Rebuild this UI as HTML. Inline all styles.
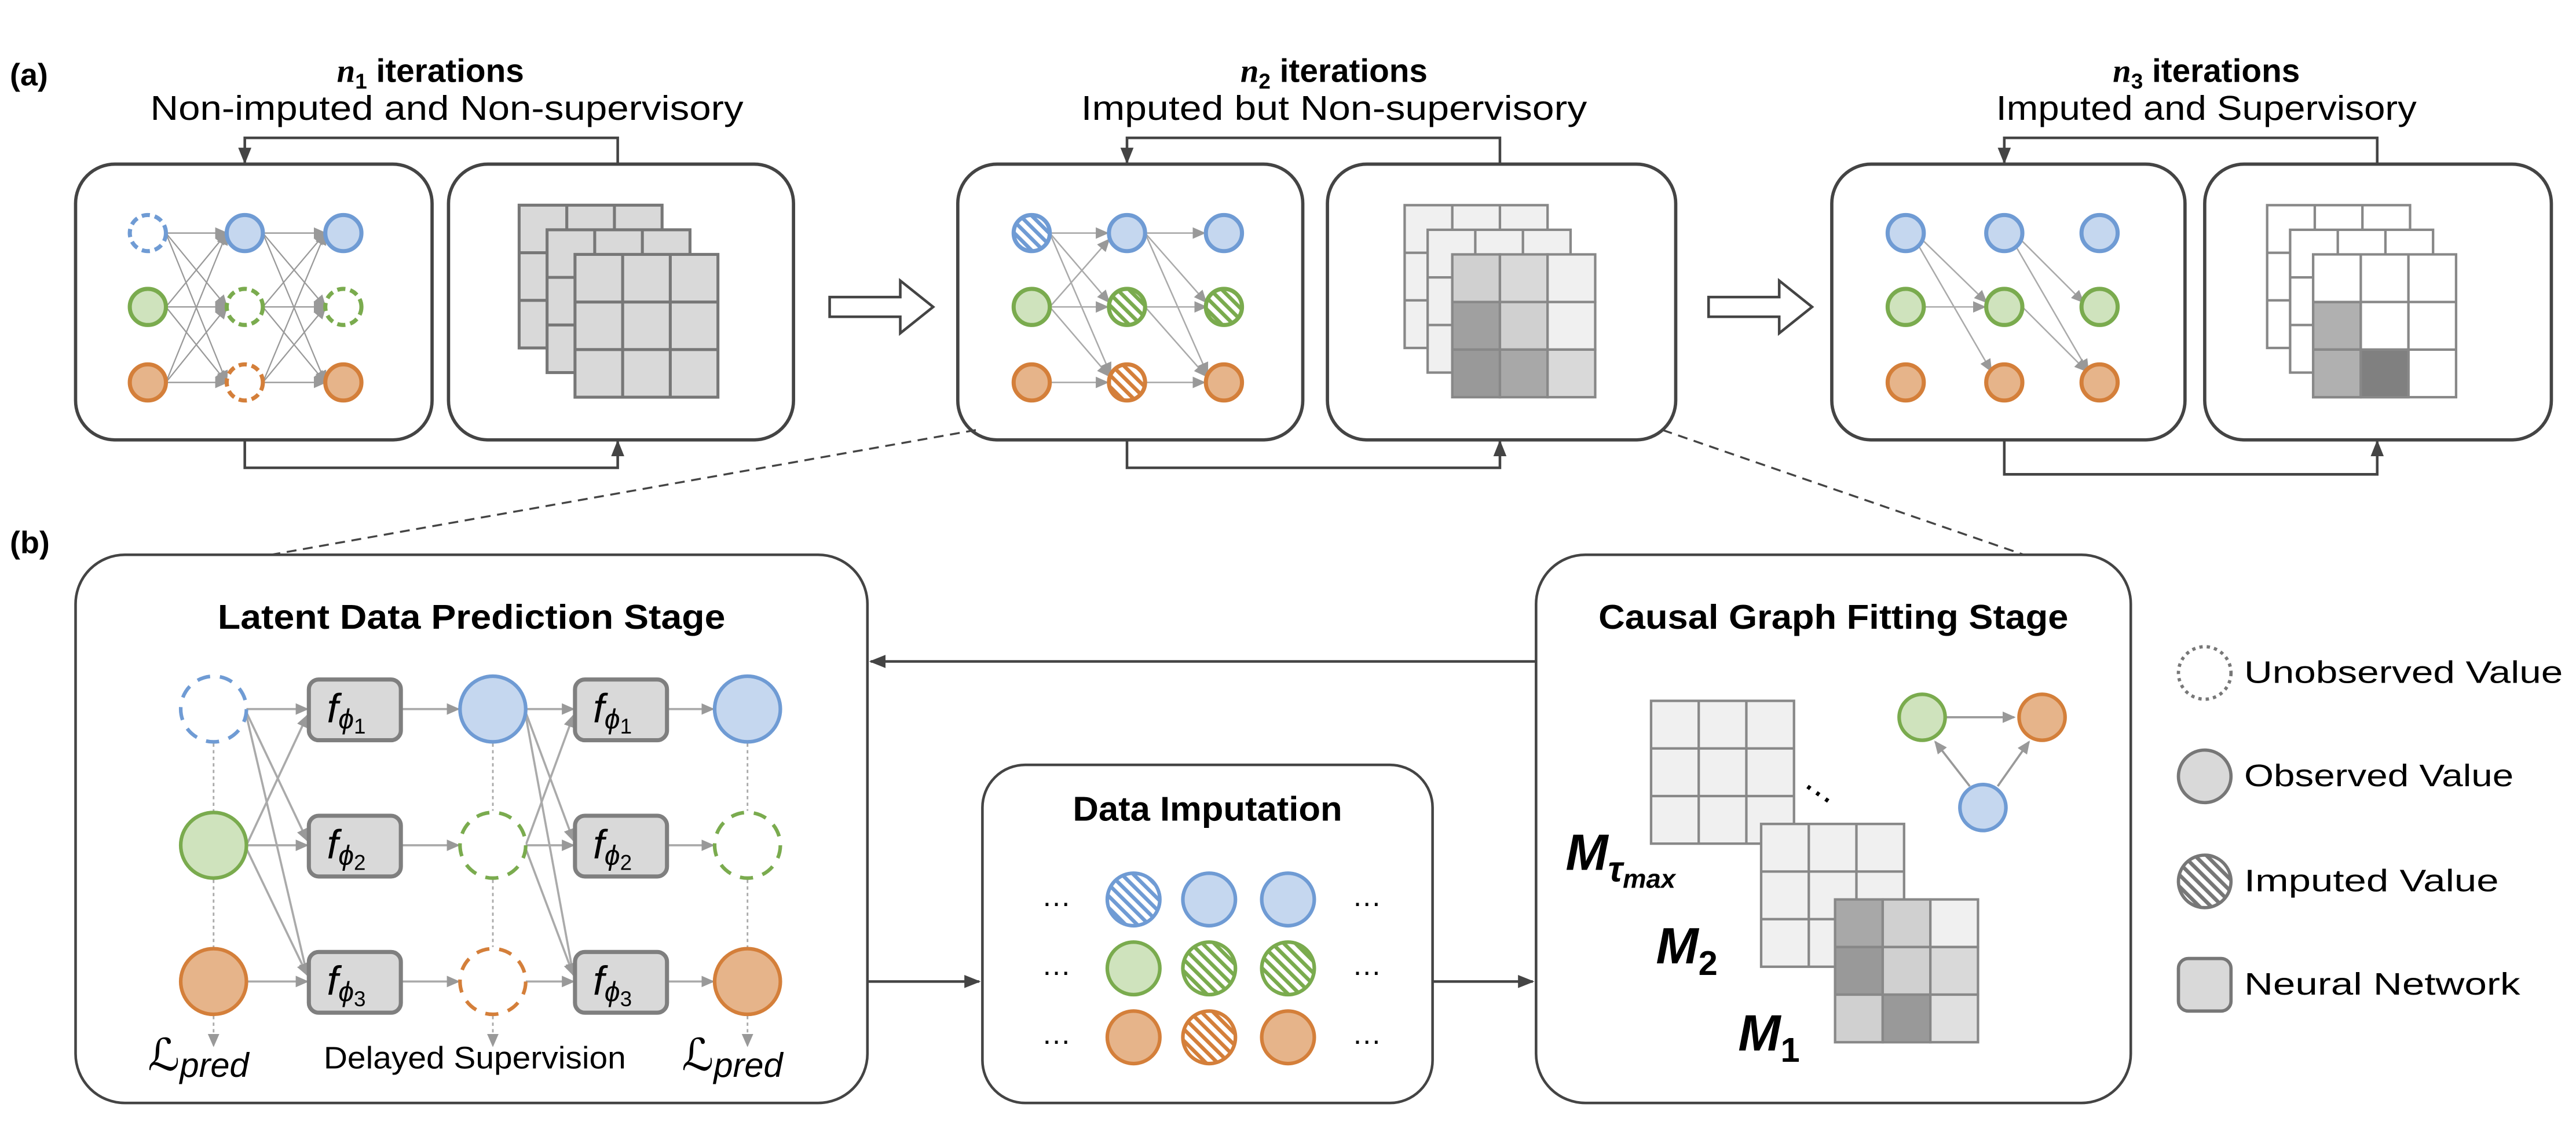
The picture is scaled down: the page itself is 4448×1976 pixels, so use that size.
<!DOCTYPE html>
<html><head><meta charset="utf-8"><style>
html,body{margin:0;padding:0;background:#fff}
svg{display:block}
text{font-family:"Liberation Sans","DejaVu Sans",sans-serif}
</style></head><body>
<svg width="4448" height="1976" viewBox="0 0 1568 697" preserveAspectRatio="none" xmlns="http://www.w3.org/2000/svg">
<defs>
<marker id="ag" markerWidth="8" markerHeight="8" refX="7" refY="4" orient="auto" markerUnits="userSpaceOnUse"><path d="M0,0.5 L8,4 L0,7.5z" fill="#999"/></marker>
<marker id="ad" markerWidth="10" markerHeight="10" refX="9" refY="5" orient="auto" markerUnits="userSpaceOnUse"><path d="M0,1 L10,5 L0,9z" fill="#444"/></marker>
<pattern id="hb" width="5" height="5" patternUnits="userSpaceOnUse" patternTransform="rotate(-45)"><rect width="5" height="5" fill="#fff"/><rect width="2.3" height="5" fill="#6f9bd4"/></pattern>
<pattern id="hg" width="5" height="5" patternUnits="userSpaceOnUse" patternTransform="rotate(-45)"><rect width="5" height="5" fill="#fff"/><rect width="2.3" height="5" fill="#7aab4e"/></pattern>
<pattern id="ho" width="5" height="5" patternUnits="userSpaceOnUse" patternTransform="rotate(-45)"><rect width="5" height="5" fill="#fff"/><rect width="2.3" height="5" fill="#d47f3a"/></pattern>
<pattern id="hk" width="5" height="5" patternUnits="userSpaceOnUse" patternTransform="rotate(-45)"><rect width="5" height="5" fill="#fff"/><rect width="2.3" height="5" fill="#777"/></pattern>
</defs>

<text x="6" y="52" font-size="19" font-weight="bold">(a)</text>
<text x="6" y="337" font-size="19" font-weight="bold">(b)</text>

<!-- titles -->
<g text-anchor="middle">
<text x="262" y="50" font-size="20" font-weight="bold"><tspan font-style="italic" font-family="Liberation Serif">n</tspan><tspan font-size="13" dy="4">1</tspan><tspan dy="-4"> iterations</tspan></text>
<text x="272" y="73" font-size="21" textLength="361" lengthAdjust="spacingAndGlyphs">Non-imputed and Non-supervisory</text>
<text x="812" y="50" font-size="20" font-weight="bold"><tspan font-style="italic" font-family="Liberation Serif">n</tspan><tspan font-size="13" dy="4">2</tspan><tspan dy="-4"> iterations</tspan></text>
<text x="812" y="73" font-size="21" textLength="308" lengthAdjust="spacingAndGlyphs">Imputed but Non-supervisory</text>
<text x="1343" y="50" font-size="20" font-weight="bold"><tspan font-style="italic" font-family="Liberation Serif">n</tspan><tspan font-size="13" dy="4">3</tspan><tspan dy="-4"> iterations</tspan></text>
<text x="1343" y="73" font-size="21" textLength="256" lengthAdjust="spacingAndGlyphs">Imputed and Supervisory</text>
</g>

<!-- panel boxes -->
<g fill="#fff" stroke="#444" stroke-width="2">
<rect x="46" y="100" width="217" height="168" rx="24"/>
<rect x="273" y="100" width="210" height="168" rx="24"/>
<rect x="583" y="100" width="210" height="168" rx="24"/>
<rect x="808" y="100" width="212" height="168" rx="24"/>
<rect x="1115" y="100" width="215" height="168" rx="24"/>
<rect x="1342" y="100" width="211" height="168" rx="24"/>
</g>
<g fill="none" stroke="#444" stroke-width="1.6">
<path d="M376,100 V84 H149 V99" marker-end="url(#ad)"/>
<path d="M149,268 V285 H376 V269" marker-end="url(#ad)"/>
<path d="M913,100 V84 H686 V99" marker-end="url(#ad)"/>
<path d="M686,268 V285 H913 V269" marker-end="url(#ad)"/>
<path d="M1447,100 V84 H1220 V99" marker-end="url(#ad)"/>
<path d="M1220,268 V289 H1447 V269" marker-end="url(#ad)"/>
</g>
<g fill="#fff" stroke="#444" stroke-width="1.6">
<path d="M505,181 H548 V171 L568,187 L548,203 V193 H505z"/>
<path d="M1040,181 H1083 V171 L1103,187 L1083,203 V193 H1040z"/>
</g>

<!-- panel 1 NN -->
<g stroke="#999" stroke-width="0.8" marker-end="url(#ag)">
<line x1="101" y1="142" x2="138" y2="142"/><line x1="101" y1="142" x2="138" y2="187"/><line x1="101" y1="142" x2="138" y2="233"/>
<line x1="101" y1="187" x2="138" y2="142"/><line x1="101" y1="187" x2="138" y2="187"/><line x1="101" y1="187" x2="138" y2="233"/>
<line x1="101" y1="233" x2="138" y2="142"/><line x1="101" y1="233" x2="138" y2="187"/><line x1="101" y1="233" x2="138" y2="233"/>
<line x1="160" y1="142" x2="198" y2="142"/><line x1="160" y1="142" x2="198" y2="187"/><line x1="160" y1="142" x2="198" y2="233"/>
<line x1="160" y1="187" x2="198" y2="142"/><line x1="160" y1="187" x2="198" y2="187"/><line x1="160" y1="187" x2="198" y2="233"/>
<line x1="160" y1="233" x2="198" y2="142"/><line x1="160" y1="233" x2="198" y2="187"/><line x1="160" y1="233" x2="198" y2="233"/>
</g>
<g stroke-width="2.5">
<circle cx="90" cy="142" r="11" fill="#fff" stroke="#6f9bd4" stroke-dasharray="5,3"/>
<circle cx="90" cy="187" r="11" fill="#cfe3bd" stroke="#7aab4e"/>
<circle cx="90" cy="233" r="11" fill="#e6b48a" stroke="#d47f3a"/>
<circle cx="149" cy="142" r="11" fill="#c5d7ef" stroke="#6f9bd4"/>
<circle cx="149" cy="187" r="11" fill="#fff" stroke="#7aab4e" stroke-dasharray="5,3"/>
<circle cx="149" cy="233" r="11" fill="#fff" stroke="#d47f3a" stroke-dasharray="5,3"/>
<circle cx="209" cy="142" r="11" fill="#c5d7ef" stroke="#6f9bd4"/>
<circle cx="209" cy="187" r="11" fill="#fff" stroke="#7aab4e" stroke-dasharray="5,3"/>
<circle cx="209" cy="233" r="11" fill="#e6b48a" stroke="#d47f3a"/>
</g>
<g stroke="#777" stroke-width="1.8" fill="#d9d9d9">
<g transform="translate(316,125)"><rect width="87" height="87"/><path d="M29,0V87M58,0V87M0,29H87M0,58H87" fill="none"/></g>
<g transform="translate(333,140)"><rect width="87" height="87"/><path d="M29,0V87M58,0V87M0,29H87M0,58H87" fill="none"/></g>
<g transform="translate(350,155)"><rect width="87" height="87"/><path d="M29,0V87M58,0V87M0,29H87M0,58H87" fill="none"/></g>
</g>

<!-- panel 2 NN -->
<g stroke="#aaa" stroke-width="0.9" marker-end="url(#ag)">
<line x1="639" y1="142" x2="674" y2="142"/><line x1="639" y1="142" x2="675" y2="184"/>
<line x1="639" y1="187" x2="675" y2="146"/><line x1="639" y1="187" x2="674" y2="187"/><line x1="639" y1="187" x2="675" y2="229"/>
<line x1="639" y1="233" x2="674" y2="233"/><line x1="639" y1="142" x2="676" y2="228"/>
<line x1="697" y1="142" x2="733" y2="142"/><line x1="697" y1="142" x2="734" y2="184"/><line x1="697" y1="142" x2="735" y2="228"/>
<line x1="697" y1="187" x2="734" y2="187"/><line x1="697" y1="187" x2="734" y2="229"/>
<line x1="697" y1="233" x2="733" y2="233"/>
</g>
<g stroke-width="2.5">
<circle cx="628" cy="142" r="11" fill="url(#hb)" stroke="#6f9bd4"/>
<circle cx="628" cy="187" r="11" fill="#cfe3bd" stroke="#7aab4e"/>
<circle cx="628" cy="233" r="11" fill="#e6b48a" stroke="#d47f3a"/>
<circle cx="686" cy="142" r="11" fill="#c5d7ef" stroke="#6f9bd4"/>
<circle cx="686" cy="187" r="11" fill="url(#hg)" stroke="#7aab4e"/>
<circle cx="686" cy="233" r="11" fill="url(#ho)" stroke="#d47f3a"/>
<circle cx="745" cy="142" r="11" fill="#c5d7ef" stroke="#6f9bd4"/>
<circle cx="745" cy="187" r="11" fill="url(#hg)" stroke="#7aab4e"/>
<circle cx="745" cy="233" r="11" fill="#e6b48a" stroke="#d47f3a"/>
</g>
<g stroke="#888" stroke-width="1.5">
<g transform="translate(855,125)" fill="#f0f0f0"><rect width="87" height="87"/><path d="M29,0V87M58,0V87M0,29H87M0,58H87" fill="none"/></g>
<g transform="translate(869,140)" fill="#f0f0f0"><rect width="87" height="87"/><path d="M29,0V87M58,0V87M0,29H87M0,58H87" fill="none"/></g>
<g transform="translate(884,155)">
<rect x="0" y="0" width="29" height="29" fill="#d0d0d0"/><rect x="29" y="0" width="29" height="29" fill="#d9d9d9"/><rect x="58" y="0" width="29" height="29" fill="#f0f0f0"/>
<rect x="0" y="29" width="29" height="29" fill="#a0a0a0"/><rect x="29" y="29" width="29" height="29" fill="#d0d0d0"/><rect x="58" y="29" width="29" height="29" fill="#f0f0f0"/>
<rect x="0" y="58" width="29" height="29" fill="#999"/><rect x="29" y="58" width="29" height="29" fill="#a8a8a8"/><rect x="58" y="58" width="29" height="29" fill="#d9d9d9"/>
</g>
</g>

<!-- panel 3 NN -->
<g stroke="#aaa" stroke-width="0.9" marker-end="url(#ag)">
<line x1="1170" y1="146" x2="1209" y2="184"/><line x1="1168" y1="150" x2="1212" y2="226"/>
<line x1="1171" y1="187" x2="1208" y2="187"/>
<line x1="1230" y1="146" x2="1268" y2="184"/><line x1="1227" y1="150" x2="1271" y2="226"/>
<line x1="1231" y1="187" x2="1270" y2="226"/>
</g>
<g stroke-width="2.5">
<circle cx="1160" cy="142" r="11" fill="#c5d7ef" stroke="#6f9bd4"/>
<circle cx="1160" cy="187" r="11" fill="#cfe3bd" stroke="#7aab4e"/>
<circle cx="1160" cy="233" r="11" fill="#e6b48a" stroke="#d47f3a"/>
<circle cx="1220" cy="142" r="11" fill="#c5d7ef" stroke="#6f9bd4"/>
<circle cx="1220" cy="187" r="11" fill="#cfe3bd" stroke="#7aab4e"/>
<circle cx="1220" cy="233" r="11" fill="#e6b48a" stroke="#d47f3a"/>
<circle cx="1278" cy="142" r="11" fill="#c5d7ef" stroke="#6f9bd4"/>
<circle cx="1278" cy="187" r="11" fill="#cfe3bd" stroke="#7aab4e"/>
<circle cx="1278" cy="233" r="11" fill="#e6b48a" stroke="#d47f3a"/>
</g>
<g stroke="#888" stroke-width="1.5">
<g transform="translate(1380,125)" fill="#fff"><rect width="87" height="87"/><path d="M29,0V87M58,0V87M0,29H87M0,58H87" fill="none"/></g>
<g transform="translate(1394,140)" fill="#fff"><rect width="87" height="87"/><path d="M29,0V87M58,0V87M0,29H87M0,58H87" fill="none"/></g>
<g transform="translate(1408,155)" fill="#fff"><rect width="87" height="87"/>
<rect x="0" y="29" width="29" height="29" fill="#b0b0b0"/><rect x="0" y="58" width="29" height="29" fill="#b0b0b0"/><rect x="29" y="58" width="29" height="29" fill="#808080"/>
<path d="M29,0V87M58,0V87M0,29H87M0,58H87" fill="none"/></g>
</g>

<g stroke="#444" stroke-width="1.2" stroke-dasharray="6,4">
<line x1="594" y1="262" x2="165" y2="338"/>
<line x1="1012" y1="262" x2="1232" y2="338"/>
</g>

<!-- (b) boxes -->
<g fill="#fff" stroke="#444" stroke-width="1.6">
<rect x="46" y="338" width="482" height="334" rx="30"/>
<rect x="598" y="466" width="274" height="206" rx="26"/>
<rect x="935" y="338" width="362" height="334" rx="30"/>
</g>
<g text-anchor="middle" font-size="21" font-weight="bold">
<text x="287" y="383" textLength="309" lengthAdjust="spacingAndGlyphs">Latent Data Prediction Stage</text>
<text x="735" y="500" textLength="164" lengthAdjust="spacingAndGlyphs">Data Imputation</text>
<text x="1116" y="383" textLength="286" lengthAdjust="spacingAndGlyphs">Causal Graph Fitting Stage</text>
</g>
<g stroke="#444" stroke-width="1.6" fill="none">
<line x1="935" y1="403" x2="530" y2="403" marker-end="url(#ad)"/>
<line x1="528" y1="598" x2="596" y2="598" marker-end="url(#ad)"/>
<line x1="872" y1="598" x2="933" y2="598" marker-end="url(#ad)"/>
</g>

<!-- LDP graph -->
<g stroke="#aaa" stroke-width="1" stroke-dasharray="2,2">
<line x1="130" y1="453" x2="130" y2="494"/><line x1="130" y1="536" x2="130" y2="577"/>
<line x1="300" y1="453" x2="300" y2="494"/><line x1="300" y1="536" x2="300" y2="577"/>
<line x1="455" y1="453" x2="455" y2="494"/><line x1="455" y1="536" x2="455" y2="577"/>
<line x1="130" y1="619" x2="130" y2="637" marker-end="url(#ag)"/>
<line x1="300" y1="619" x2="300" y2="637" marker-end="url(#ag)"/>
<line x1="455" y1="619" x2="455" y2="637" marker-end="url(#ag)"/>
</g>
<g stroke="#aaa" stroke-width="1.3" marker-end="url(#ag)">
<line x1="150" y1="432" x2="187" y2="432"/><line x1="150" y1="434" x2="187" y2="512"/><line x1="150" y1="436" x2="187" y2="594"/>
<line x1="150" y1="515" x2="187" y2="436"/><line x1="150" y1="515" x2="187" y2="515"/><line x1="150" y1="517" x2="187" y2="594"/>
<line x1="150" y1="598" x2="187" y2="598"/>
<line x1="244" y1="432" x2="279" y2="432"/><line x1="244" y1="515" x2="279" y2="515"/><line x1="244" y1="598" x2="279" y2="598"/>
<line x1="320" y1="432" x2="349" y2="432"/><line x1="320" y1="434" x2="349" y2="512"/><line x1="320" y1="436" x2="349" y2="594"/>
<line x1="320" y1="515" x2="349" y2="436"/><line x1="320" y1="515" x2="349" y2="515"/><line x1="320" y1="517" x2="349" y2="594"/>
<line x1="320" y1="598" x2="349" y2="598"/>
<line x1="406" y1="432" x2="434" y2="432"/><line x1="406" y1="515" x2="434" y2="515"/><line x1="406" y1="598" x2="434" y2="598"/>
</g>
<g stroke-width="2.2">
<circle cx="130" cy="432" r="20" fill="#fff" stroke="#6f9bd4" stroke-dasharray="8,6"/>
<circle cx="130" cy="515" r="20" fill="#cfe3bd" stroke="#7aab4e"/>
<circle cx="130" cy="598" r="20" fill="#e6b48a" stroke="#d47f3a"/>
<circle cx="300" cy="432" r="20" fill="#c5d7ef" stroke="#6f9bd4"/>
<circle cx="300" cy="515" r="20" fill="#fff" stroke="#7aab4e" stroke-dasharray="8,6"/>
<circle cx="300" cy="598" r="20" fill="#fff" stroke="#d47f3a" stroke-dasharray="8,6"/>
<circle cx="455" cy="432" r="20" fill="#c5d7ef" stroke="#6f9bd4"/>
<circle cx="455" cy="515" r="20" fill="#fff" stroke="#7aab4e" stroke-dasharray="8,6"/>
<circle cx="455" cy="598" r="20" fill="#e6b48a" stroke="#d47f3a"/>
</g>
<g fill="#d9d9d9" stroke="#7f7f7f" stroke-width="2.5">
<rect x="188" y="414" width="56" height="37" rx="6"/><rect x="188" y="497" width="56" height="37" rx="6"/><rect x="188" y="580" width="56" height="37" rx="6"/>
<rect x="350" y="414" width="56" height="37" rx="6"/><rect x="350" y="497" width="56" height="37" rx="6"/><rect x="350" y="580" width="56" height="37" rx="6"/>
</g>
<g font-family="Liberation Serif" font-style="italic" font-size="25">
<text x="199" y="440">f<tspan font-size="17" dy="4">ϕ</tspan><tspan font-size="13" dy="3" font-style="normal">1</tspan></text>
<text x="199" y="523">f<tspan font-size="17" dy="4">ϕ</tspan><tspan font-size="13" dy="3" font-style="normal">2</tspan></text>
<text x="199" y="606">f<tspan font-size="17" dy="4">ϕ</tspan><tspan font-size="13" dy="3" font-style="normal">3</tspan></text>
<text x="361" y="440">f<tspan font-size="17" dy="4">ϕ</tspan><tspan font-size="13" dy="3" font-style="normal">1</tspan></text>
<text x="361" y="523">f<tspan font-size="17" dy="4">ϕ</tspan><tspan font-size="13" dy="3" font-style="normal">2</tspan></text>
<text x="361" y="606">f<tspan font-size="17" dy="4">ϕ</tspan><tspan font-size="13" dy="3" font-style="normal">3</tspan></text>
<text x="90" y="652" font-size="27">ℒ<tspan font-size="21" dy="4">pred</tspan></text>
<text x="415" y="652" font-size="27">ℒ<tspan font-size="21" dy="4">pred</tspan></text>
</g>
<text x="289" y="651" font-size="19" text-anchor="middle" textLength="184" lengthAdjust="spacingAndGlyphs">Delayed Supervision</text>

<!-- Data imputation grid -->
<g font-size="18" text-anchor="middle"><text x="643" y="552">…</text><text x="643" y="594">…</text><text x="643" y="636">…</text>
<text x="832" y="552">…</text><text x="832" y="594">…</text><text x="832" y="636">…</text></g>
<g stroke-width="2.2">
<circle cx="690" cy="548" r="16" fill="url(#hb)" stroke="#6f9bd4"/>
<circle cx="736" cy="548" r="16" fill="#c5d7ef" stroke="#6f9bd4"/>
<circle cx="784" cy="548" r="16" fill="#c5d7ef" stroke="#6f9bd4"/>
<circle cx="690" cy="590" r="16" fill="#cfe3bd" stroke="#7aab4e"/>
<circle cx="736" cy="590" r="16" fill="url(#hg)" stroke="#7aab4e"/>
<circle cx="784" cy="590" r="16" fill="url(#hg)" stroke="#7aab4e"/>
<circle cx="690" cy="632" r="16" fill="#e6b48a" stroke="#d47f3a"/>
<circle cx="736" cy="632" r="16" fill="url(#ho)" stroke="#d47f3a"/>
<circle cx="784" cy="632" r="16" fill="#e6b48a" stroke="#d47f3a"/>
</g>

<!-- CGF matrices -->
<g stroke="#888" stroke-width="1.5">
<g transform="translate(1005,427)" fill="#f0f0f0"><rect width="87" height="87"/><path d="M29,0V87M58,0V87M0,29H87M0,58H87" fill="none"/></g>
<g transform="translate(1072,502)" fill="#f0f0f0"><rect width="87" height="87"/><path d="M29,0V87M58,0V87M0,29H87M0,58H87" fill="none"/></g>
<g transform="translate(1117,548)">
<rect x="0" y="0" width="29" height="29" fill="#a8a8a8"/><rect x="29" y="0" width="29" height="29" fill="#d0d0d0"/><rect x="58" y="0" width="29" height="29" fill="#f0f0f0"/>
<rect x="0" y="29" width="29" height="29" fill="#999"/><rect x="29" y="29" width="29" height="29" fill="#d0d0d0"/><rect x="58" y="29" width="29" height="29" fill="#d9d9d9"/>
<rect x="0" y="58" width="29" height="29" fill="#d0d0d0"/><rect x="29" y="58" width="29" height="29" fill="#999"/><rect x="58" y="58" width="29" height="29" fill="#e0e0e0"/>
</g>
</g>
<text x="1107" y="490" font-size="20" text-anchor="middle" transform="rotate(35 1107 483)">⋯</text>
<g font-family="Liberation Serif" font-style="italic" font-weight="bold" font-size="31">
<text x="953" y="530">M<tspan font-size="22" dy="7">τ</tspan><tspan font-size="16" dy="4">max</tspan></text>
<text x="1008" y="587">M<tspan font-size="21" dy="7" font-style="normal">2</tspan></text>
<text x="1058" y="640">M<tspan font-size="21" dy="7" font-style="normal">1</tspan></text>
</g>
<g stroke="#999" stroke-width="1.3" marker-end="url(#ag)">
<line x1="1185" y1="437" x2="1226" y2="437"/>
<line x1="1199" y1="479" x2="1178" y2="452"/>
<line x1="1216" y1="479" x2="1235" y2="452"/>
</g>
<g stroke-width="2.2">
<circle cx="1170" cy="437" r="14" fill="#cfe3bd" stroke="#7aab4e"/>
<circle cx="1243" cy="437" r="14" fill="#e6b48a" stroke="#d47f3a"/>
<circle cx="1207" cy="492" r="14" fill="#c5d7ef" stroke="#6f9bd4"/>
</g>

<!-- legend -->
<g stroke="#777" stroke-width="2">
<circle cx="1342" cy="410" r="16" fill="#fff" stroke-dasharray="2,2.5"/>
<circle cx="1342" cy="473" r="16" fill="#d9d9d9"/>
<circle cx="1342" cy="537" r="16" fill="url(#hk)"/>
<rect x="1326" y="584" width="32" height="32" rx="6" fill="#d9d9d9"/>
</g>
<g font-size="19">
<text x="1366" y="416" textLength="194" lengthAdjust="spacingAndGlyphs">Unobserved Value</text>
<text x="1366" y="479" textLength="164" lengthAdjust="spacingAndGlyphs">Observed Value</text>
<text x="1366" y="543" textLength="155" lengthAdjust="spacingAndGlyphs">Imputed Value</text>
<text x="1366" y="606" textLength="168" lengthAdjust="spacingAndGlyphs">Neural Network</text>
</g>
</svg>
</body></html>
